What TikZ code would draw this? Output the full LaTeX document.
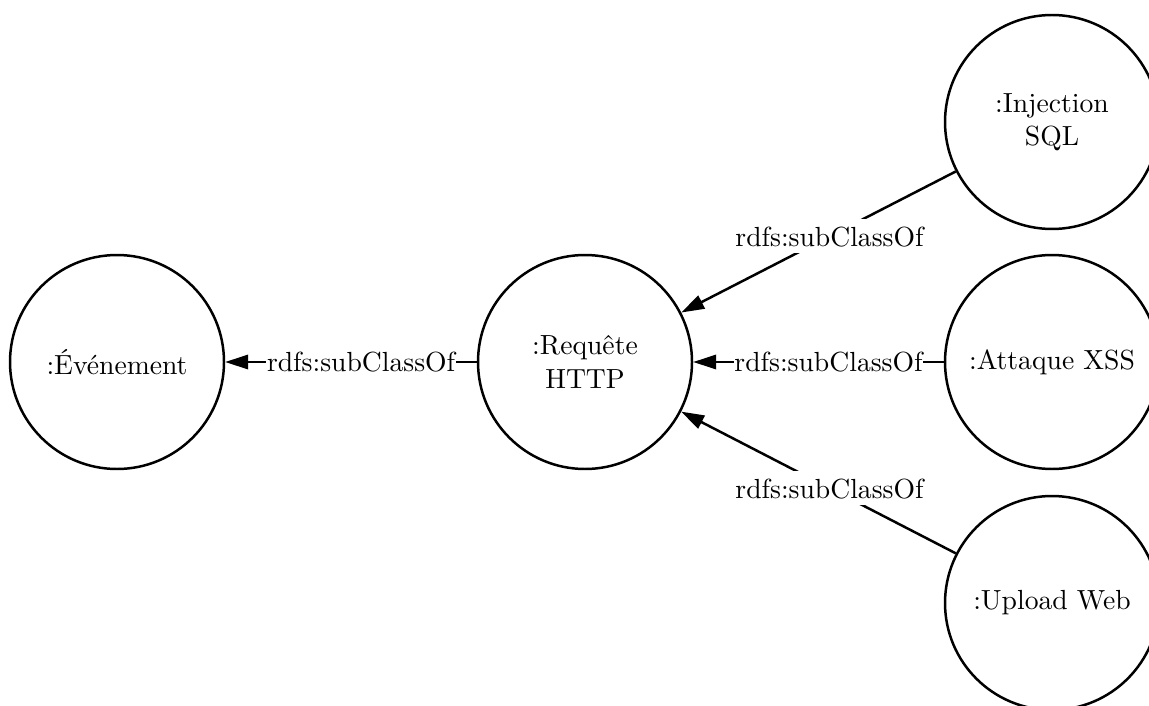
\documentclass[tikz,border=0pt]{standalone}
\usetikzlibrary{arrows.meta}
\begin{document}
\begin{tikzpicture}[x=0.3617pt,y=-0.3617pt,
  cls/.style={circle,draw,line width=0.9pt,minimum size=77.4pt,inner sep=0pt,align=center},
  subof/.style={line width=0.9pt,-{Triangle[length=8.3pt,width=5.2pt]}},
  rel/.style={fill=white,inner xsep=0.3pt,inner ysep=2.5pt,text height=7.2pt,text depth=0pt,pos=0.46}]
  \useasboundingbox (0,0) rectangle (1149,705);
  \begin{scope}
    \clip (0,0) rectangle (1149,705);
    \node[cls] (evt) at (117,362) {:Événement};
    \node[cls] (req) at (585,362) {:Requête\\HTTP};
    \node[cls] (sql) at (1052,122) {:Injection\\SQL};
    \node[cls] (xss) at (1052,362) {:Attaque XSS};
    \node[cls] (up)  at (1052,603) {:Upload Web};
    \draw[subof] (req) -- node[rel] {rdfs:subClassOf} (evt);
    \draw[subof] (sql) -- node[rel] {rdfs:subClassOf} (req);
    \draw[subof] (xss) -- node[rel] {rdfs:subClassOf} (req);
    \draw[subof] (up)  -- node[rel] {rdfs:subClassOf} (req);
  \end{scope}
\end{tikzpicture}
\end{document}
